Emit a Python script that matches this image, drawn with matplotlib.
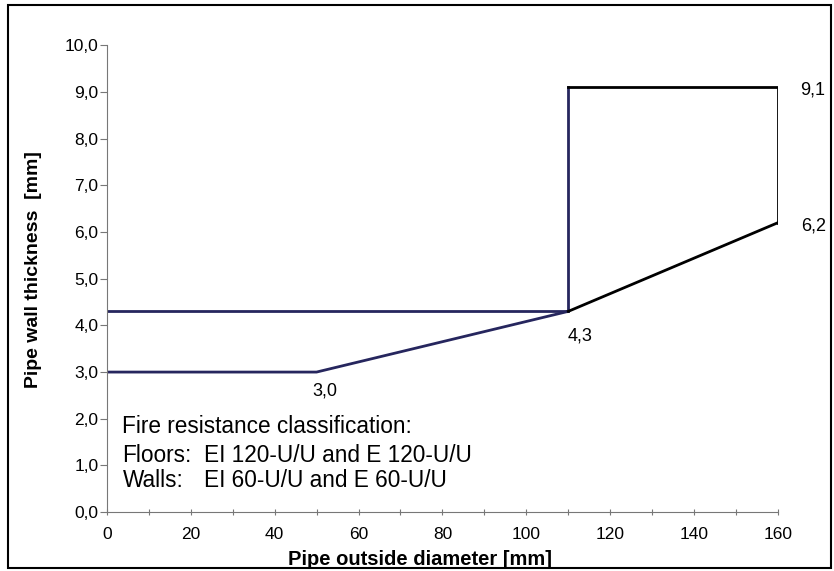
import numpy as np
import matplotlib
matplotlib.use('Agg')
import matplotlib.pyplot as plt
from matplotlib.patches import Rectangle

plt.rcParams['font.family'] = ['Liberation Sans', 'DejaVu Sans']

# upper boundary (navy) and lower boundary (black)
upper_x = [0, 110, 110]
upper_y = [4.3, 4.3, 9.1]
right_x = [110, 160, 160]
right_y = [9.1, 9.1, 6.2]
lower_x = [0, 50, 110]
lower_y = [3.0, 3.0, 4.3]
slope_x = [110, 160]
slope_y = [4.3, 6.2]

# point labels
lab_x = [50, 110, 160, 160]
lab_y = [3.0, 4.3, 6.2, 9.1]
lab_txt = ['3,0', '4,3', '6,2', '9,1']

note_head = 'Fire resistance classification:'
note_rows = ['Floors:', 'Walls:']
note_vals = ['EI 120-U/U and E 120-U/U', 'EI 60-U/U and E 60-U/U']

yticks = np.arange(0, 11, 1)
xticks = np.arange(0, 161, 20)

fig = plt.figure(figsize=(8.34, 5.71), dpi=100)
ax = fig.add_axes([0.128, 0.103, 0.805, 0.818])

navy = '#26265e'
ax.plot(upper_x, upper_y, color=navy, lw=2, solid_joinstyle='miter')
ax.plot(lower_x, lower_y, color=navy, lw=2, solid_joinstyle='miter')
ax.plot(right_x, right_y, color='black', lw=2, solid_joinstyle='miter')
ax.plot(slope_x, slope_y, color='black', lw=2)

offs = {'3,0': (-4, -10, 'left', 'top'), '4,3': (-1, -16, 'left', 'top'),
        '6,2': (23, -3, 'left', 'center'), '9,1': (22, -3, 'left', 'center')}
for x, y, t in zip(lab_x, lab_y, lab_txt):
    dx, dy, ha, va = offs[t]
    ax.annotate(t, (x, y), xytext=(dx, dy), textcoords='offset pixels',
                ha=ha, va=va, fontsize=13)

ax.text(3.74, 1.69, note_head, fontsize=16.3, va='baseline', ha='left')
for yy, r, v in zip([1.07, 0.535], note_rows, note_vals):
    ax.text(3.74, yy, r, fontsize=16.3, va='baseline', ha='left')
    ax.text(23.1, yy, v, fontsize=16.3, va='baseline', ha='left')

ax.set_xlim(0, 160)
ax.set_ylim(0, 10)
ax.set_yticks(yticks)
ax.yaxis.set_major_formatter(plt.FuncFormatter(lambda v, p: ('%.1f' % v).replace('.', ',')))
ax.set_xticks(xticks)
ax.set_xticks(np.arange(0, 161, 10), minor=True)
ax.tick_params(axis='y', direction='out', length=5, width=0.8, color='#777777', labelsize=12.5, pad=1)
ax.tick_params(axis='x', which='both', direction='inout', length=5, width=0.8, color='#777777', labelsize=12.5, pad=8)
for s in ['top', 'right']:
    ax.spines[s].set_visible(False)
for s in ['left', 'bottom']:
    ax.spines[s].set_color('#777777')
    ax.spines[s].set_linewidth(0.8)

ax.set_xlabel('Pipe outside diameter [mm]', fontsize=14.5, fontweight='bold')
ax.set_ylabel('Pipe wall thickness  [mm]', fontsize=14, fontweight='bold')
ax.xaxis.set_label_coords(0.466, -0.082, transform=ax.transAxes)
ax.yaxis.set_label_coords(-0.096, 0.52, transform=ax.transAxes)

fig.patches.append(Rectangle((0.009, 0.006), 0.988, 0.986, transform=fig.transFigure,
                             fill=False, edgecolor='black', lw=1.5))

fig.savefig('out.png', dpi=100)
